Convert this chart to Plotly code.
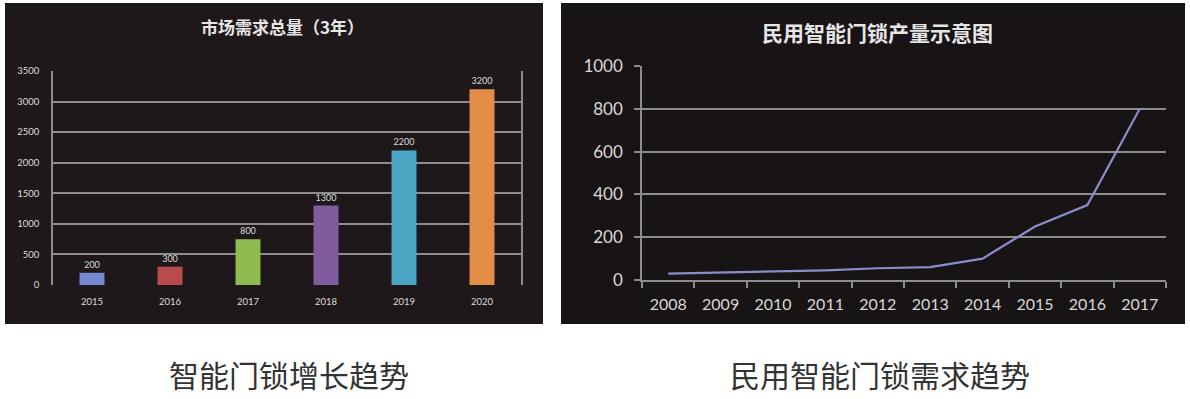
import plotly.graph_objects as go

# ---- data ----
bar_years = ["2015", "2016", "2017", "2018", "2019", "2020"]
bar_values = [200, 300, 750, 1300, 2200, 3200]
bar_labels = ["200", "300", "800", "1300", "2200", "3200"]
bar_colors = ["#7589d0", "#b84b4b", "#8fba50", "#7f5c9e", "#4aa7c4", "#e38d47"]

line_years = ["2008", "2009", "2010", "2011", "2012", "2013", "2014", "2015", "2016", "2017"]
line_values = [30, 35, 40, 45, 55, 60, 100, 250, 350, 800]

left_title = "市场需求总量（3年）"
right_title = "民用智能门锁产量示意图"
left_caption = "智能门锁增长趋势"
right_caption = "民用智能门锁需求趋势"

W, H = 1190, 399


def px(x):
    return x / W


def py(y):
    return 1 - y / H


fig = go.Figure()

fig.add_trace(go.Bar(
    x=bar_years, y=bar_values, text=bar_labels, textposition="outside",
    constraintext="none", cliponaxis=False,
    textfont=dict(family="Lato", size=9, color="#dcdcdc"),
    marker=dict(color=bar_colors, line=dict(width=0)),
    width=0.32, xaxis="x", yaxis="y", showlegend=False,
))

fig.add_trace(go.Scatter(
    x=line_years, y=line_values, mode="lines",
    line=dict(color="#8a8dca", width=2.2),
    xaxis="x2", yaxis="y2", showlegend=False,
))

grid_c = "#8d8d8d"

fig.update_layout(
    width=W, height=H,
    margin=dict(l=0, r=0, t=0, b=0, pad=0, autoexpand=False),
    paper_bgcolor="white",
    plot_bgcolor="rgba(0,0,0,0)",
    xaxis=dict(
        domain=[px(53), px(521)], anchor="y", type="category",
        range=[-0.5, 5.5], showgrid=False, zeroline=False, showline=False,
        ticks="", tickfont=dict(family="Lato", size=9.5, color="#dcdcdc"),
        ticklabelstandoff=9, automargin=False,
    ),
    yaxis=dict(
        domain=[py(285), py(71)], anchor="x", range=[0, 3500],
        tickvals=[0, 500, 1000, 1500, 2000, 2500, 3000, 3500],
        showgrid=True, gridcolor=grid_c, gridwidth=1.5,
        zeroline=False, showline=True, linecolor=grid_c, linewidth=1.5,
        mirror=True, ticks="",
        tickfont=dict(family="Lato", size=9.5, color="#dcdcdc"),
        ticklabelstandoff=10, automargin=False,
    ),
    xaxis2=dict(
        domain=[px(642), px(1166)], anchor="y2", type="category",
        range=[-0.5, 9.5], showgrid=False, zeroline=False,
        showline=True, linecolor=grid_c, linewidth=1.5,
        ticks="outside", tickson="boundaries", ticklen=6, tickcolor=grid_c,
        tickwidth=1.5,
        tickfont=dict(family="Lato", size=16, color="#d8d8d8"),
        ticklabelstandoff=9, automargin=False,
    ),
    yaxis2=dict(
        domain=[py(280), py(66)], anchor="x2", range=[0, 1000],
        tickvals=[0, 200, 400, 600, 800, 1000],
        showgrid=True, gridcolor=grid_c, gridwidth=1.5,
        zeroline=False, showline=True, linecolor=grid_c, linewidth=1.5,
        ticks="outside", ticklen=6, tickcolor=grid_c, tickwidth=1.5,
        tickfont=dict(family="Lato", size=17, color="#d8d8d8"),
        ticklabelstandoff=8, automargin=False,
    ),
    shapes=[
        dict(type="rect", xref="paper", yref="paper", layer="below",
             x0=px(5), x1=px(543), y0=py(324), y1=py(3),
             fillcolor="#1e181a", line=dict(width=0)),
        dict(type="rect", xref="paper", yref="paper", layer="below",
             x0=px(561), x1=px(1185), y0=py(324), y1=py(3),
             fillcolor="#181315", line=dict(width=0)),
    ],
    annotations=[
        dict(text="<b>" + left_title + "</b>", xref="paper", yref="paper",
             x=px(282), y=py(26), showarrow=False, xanchor="center", yanchor="middle",
             font=dict(family="Noto Sans CJK SC", size=17, color="#e6e6e6")),
        dict(text="<b>" + right_title + "</b>", xref="paper", yref="paper",
             x=px(877), y=py(32), showarrow=False, xanchor="center", yanchor="middle",
             font=dict(family="Noto Sans CJK SC", size=21, color="#e6e6e6")),
        dict(text=left_caption, xref="paper", yref="paper",
             x=px(289), y=py(374), showarrow=False, xanchor="center", yanchor="middle",
             font=dict(family="Noto Sans CJK SC", size=30, color="#333333")),
        dict(text=right_caption, xref="paper", yref="paper",
             x=px(880), y=py(374), showarrow=False, xanchor="center", yanchor="middle",
             font=dict(family="Noto Sans CJK SC", size=30, color="#333333")),
    ],
)

fig.write_html(
    "out.html",
    config={"displayModeBar": False},
    post_script="document.body.style.margin='0';document.body.style.overflow='hidden';",
)
